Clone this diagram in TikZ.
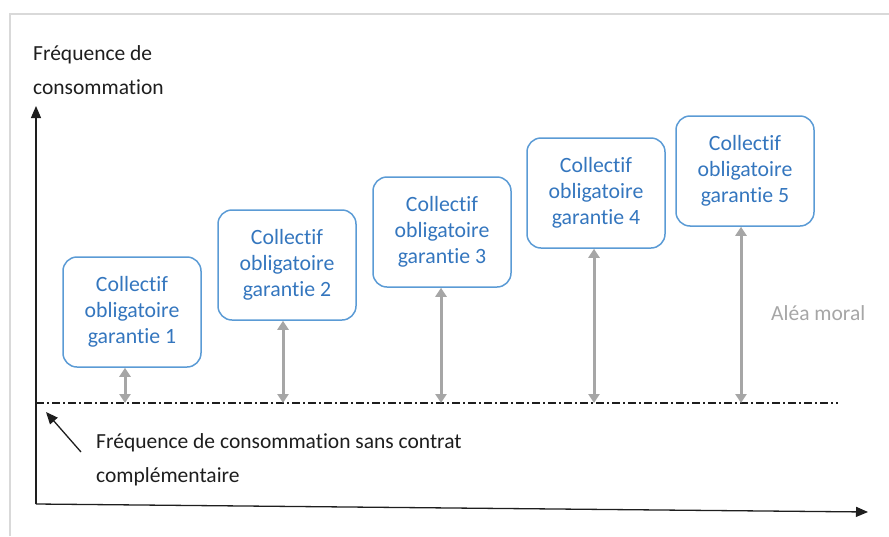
\documentclass[tikz,border=0pt]{standalone}
\usepackage{fontspec}
\setmainfont[Ligatures=NoCommon]{Carlito}
\usetikzlibrary{arrows.meta, positioning, calc}
\definecolor{boxblue}{RGB}{91, 155, 213}
\definecolor{textblue}{RGB}{52, 118, 190}
\definecolor{moralgray}{RGB}{166, 166, 166}
\definecolor{framegray}{RGB}{217, 217, 217}
\definecolor{darktext}{RGB}{30, 30, 30}

\begin{document}
\begin{tikzpicture}[x=1pt, y=-1pt,
    garantie/.style={draw=boxblue, line width=1.5pt, rounded corners=14pt,
          minimum width=138pt, minimum height=110pt, inner sep=0pt,
          align=center, text=textblue, font=\fontsize{21.8}{26}\selectfont},
    moral/.style={draw=moralgray, line width=3pt,
          {Triangle[length=9pt,width=11pt]}-{Triangle[length=9pt,width=11pt]}},
    axis/.style={draw=darktext, line width=1.3pt, -{Triangle[length=12pt,width=10pt]}},
    axelabel/.style={anchor=north west, inner sep=0pt, align=left,
          text=darktext, font=\fontsize{21.5}{34}\selectfont}]
    \useasboundingbox (0,0) rectangle (889,536);
    % cadre
    \draw[framegray, line width=2pt] (10,536) -- (10,14) -- (889,14);

    % axes
    \coordinate (O) at (36,504);
    \coordinate (ytip) at (36,106);
    \coordinate (xtip) at (868,512);
    \draw[axis] (O) -- (ytip);
    \draw[axis] (O) -- (xtip);
    \node[axelabel] (ylab) at (33,45) {Fréquence de\\consommation};

    % niveau sans contrat complementaire
    \coordinate (s0) at (36,403);
    \coordinate (s1) at (838,403);
    \draw[darktext, line width=1.2pt, dash pattern=on 8pt off 3pt on 2pt off 3pt] (s0) -- (s1);
    \coordinate (ptail) at (81,452);
    \coordinate (ptip) at (46,412);
    \draw[axis] (ptail) -- (ptip);
    \node[axelabel] (sans) at (96,433) {Fréquence de consommation sans contrat\\complémentaire};

    % garanties
    \node[garantie] (g1) at (132,312) {Collectif\\obligatoire\\garantie 1};
    \node[garantie] (g2) at (287,265) {Collectif\\obligatoire\\garantie 2};
    \node[garantie] (g3) at (442,232) {Collectif\\obligatoire\\garantie 3};
    \node[garantie] (g4) at (596,193) {Collectif\\obligatoire\\garantie 4};
    \node[garantie] (g5) at (745,171) {Collectif\\obligatoire\\garantie 5};

    \foreach \i/\xa in {1/125, 2/283, 3/441, 4/594, 5/741} {
        \coordinate (b\i) at (\xa,403);
        \draw[moral] (b\i) -- (b\i |- g\i.south);
    }
    \node[anchor=west, inner sep=0pt, text=moralgray, font=\fontsize{21.5}{24}\selectfont] (alea) at (771,313) {Aléa moral};
\end{tikzpicture}
\end{document}
